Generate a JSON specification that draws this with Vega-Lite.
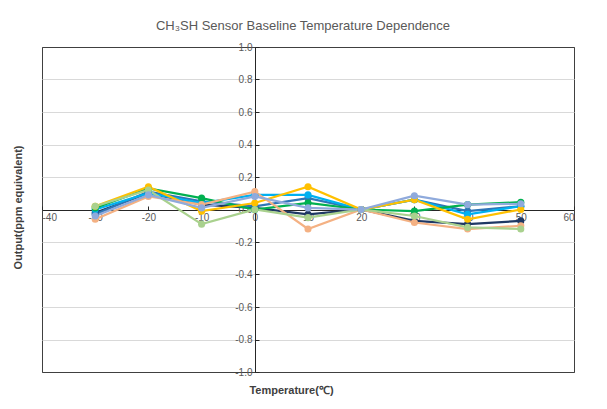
{
  "$schema": "https://vega.github.io/schema/vega-lite/v6.json",
  "width": 532,
  "height": 325,
  "autosize": "none",
  "padding": {"left": 42, "top": 47, "right": 33, "bottom": 37},
  "background": "white",
  "title": {
    "text": "CH₃SH Sensor Baseline Temperature Dependence",
    "font": "Liberation Sans",
    "fontSize": 13,
    "fontWeight": "normal",
    "color": "#595959",
    "anchor": "middle",
    "dx": -5,
    "offset": 9
  },
  "config": {
    "view": {"stroke": "#404040", "strokeWidth": 1},
    "axis": {
      "labelFont": "Liberation Sans",
      "labelFontSize": 10,
      "labelColor": "#595959",
      "titleFont": "Liberation Sans",
      "titleFontSize": 11,
      "titleFontWeight": "bold",
      "titleColor": "#404040",
      "domainColor": "#262626",
      "domainWidth": 1,
      "tickColor": "#262626",
      "tickSize": -4,
      "zindex": 0
    }
  },
  "data": {
    "values": [
      {"temp": -30, "sensor": "S1", "output": -0.02},
      {"temp": -20, "sensor": "S1", "output": 0.10},
      {"temp": -10, "sensor": "S1", "output": 0.03},
      {"temp": 0, "sensor": "S1", "output": 0.01},
      {"temp": 10, "sensor": "S1", "output": -0.03},
      {"temp": 20, "sensor": "S1", "output": 0},
      {"temp": 30, "sensor": "S1", "output": -0.07},
      {"temp": 40, "sensor": "S1", "output": -0.09},
      {"temp": 50, "sensor": "S1", "output": -0.07},
      {"temp": -30, "sensor": "S2", "output": -0.03},
      {"temp": -20, "sensor": "S2", "output": 0.11},
      {"temp": -10, "sensor": "S2", "output": 0.05},
      {"temp": 0, "sensor": "S2", "output": 0.02},
      {"temp": 10, "sensor": "S2", "output": 0.07},
      {"temp": 20, "sensor": "S2", "output": 0},
      {"temp": 30, "sensor": "S2", "output": 0.06},
      {"temp": 40, "sensor": "S2", "output": -0.01},
      {"temp": 50, "sensor": "S2", "output": 0.02},
      {"temp": -30, "sensor": "S3", "output": 0.0},
      {"temp": -20, "sensor": "S3", "output": 0.10},
      {"temp": -10, "sensor": "S3", "output": 0.04},
      {"temp": 0, "sensor": "S3", "output": 0.09},
      {"temp": 10, "sensor": "S3", "output": 0.09},
      {"temp": 20, "sensor": "S3", "output": 0},
      {"temp": 30, "sensor": "S3", "output": 0.06},
      {"temp": 40, "sensor": "S3", "output": -0.03},
      {"temp": 50, "sensor": "S3", "output": 0.02},
      {"temp": -30, "sensor": "S4", "output": 0.01},
      {"temp": -20, "sensor": "S4", "output": 0.13},
      {"temp": -10, "sensor": "S4", "output": 0.07},
      {"temp": 0, "sensor": "S4", "output": 0.0},
      {"temp": 10, "sensor": "S4", "output": 0.04},
      {"temp": 20, "sensor": "S4", "output": 0},
      {"temp": 30, "sensor": "S4", "output": -0.01},
      {"temp": 40, "sensor": "S4", "output": 0.03},
      {"temp": 50, "sensor": "S4", "output": 0.045},
      {"temp": -30, "sensor": "S5", "output": 0.02},
      {"temp": -20, "sensor": "S5", "output": 0.14},
      {"temp": -10, "sensor": "S5", "output": -0.01},
      {"temp": 0, "sensor": "S5", "output": 0.04},
      {"temp": 10, "sensor": "S5", "output": 0.14},
      {"temp": 20, "sensor": "S5", "output": 0},
      {"temp": 30, "sensor": "S5", "output": 0.06},
      {"temp": 40, "sensor": "S5", "output": -0.06},
      {"temp": 50, "sensor": "S5", "output": 0.0},
      {"temp": -30, "sensor": "S6", "output": -0.06},
      {"temp": -20, "sensor": "S6", "output": 0.08},
      {"temp": -10, "sensor": "S6", "output": 0.03},
      {"temp": 0, "sensor": "S6", "output": 0.11},
      {"temp": 10, "sensor": "S6", "output": -0.12},
      {"temp": 20, "sensor": "S6", "output": 0},
      {"temp": 30, "sensor": "S6", "output": -0.08},
      {"temp": 40, "sensor": "S6", "output": -0.12},
      {"temp": 50, "sensor": "S6", "output": -0.10},
      {"temp": -30, "sensor": "S7", "output": 0.02},
      {"temp": -20, "sensor": "S7", "output": 0.12},
      {"temp": -10, "sensor": "S7", "output": -0.09},
      {"temp": 0, "sensor": "S7", "output": 0.0},
      {"temp": 10, "sensor": "S7", "output": -0.05},
      {"temp": 20, "sensor": "S7", "output": 0},
      {"temp": 30, "sensor": "S7", "output": -0.04},
      {"temp": 40, "sensor": "S7", "output": -0.11},
      {"temp": 50, "sensor": "S7", "output": -0.12},
      {"temp": -30, "sensor": "S8", "output": -0.04},
      {"temp": -20, "sensor": "S8", "output": 0.09},
      {"temp": -10, "sensor": "S8", "output": 0.01},
      {"temp": 0, "sensor": "S8", "output": 0.08},
      {"temp": 10, "sensor": "S8", "output": 0.01},
      {"temp": 20, "sensor": "S8", "output": 0},
      {"temp": 30, "sensor": "S8", "output": 0.085},
      {"temp": 40, "sensor": "S8", "output": 0.03},
      {"temp": 50, "sensor": "S8", "output": 0.035}
    ]
  },
  "mark": {
    "type": "line",
    "strokeWidth": 2.25,
    "point": {"filled": true, "size": 50}
  },
  "encoding": {
    "x": {
      "field": "temp",
      "type": "quantitative",
      "scale": {"domain": [-40, 60], "nice": false},
      "axis": {
        "title": "Temperature(℃)",
        "values": [-40, -30, -20, -10, 0, 10, 20, 30, 40, 50, 60],
        "labelExpr": "replace(format(datum.value, 'd'), '−', '-')",
        "grid": false,
        "offset": -162,
        "titleX": 249,
        "titleY": 174,
        "labelPadding": 6
      }
    },
    "y": {
      "field": "output",
      "type": "quantitative",
      "scale": {"domain": [-1, 1], "nice": false},
      "axis": {
        "title": "Output(ppm equivalent)",
        "values": [-1, -0.8, -0.6, -0.4, -0.2, 0, 0.2, 0.4, 0.6, 0.8, 1],
        "labelExpr": "replace(format(datum.value, '.1f'), '−', '-')",
        "grid": true,
        "gridColor": {
          "condition": {"test": "abs(datum.value) == 1", "value": "#404040"},
          "value": "#D9D9D9"
        },
        "offset": -213,
        "titleX": -232,
        "titleY": 160,
        "labelPadding": 7
      }
    },
    "color": {
      "field": "sensor",
      "type": "nominal",
      "scale": {
        "domain": ["S1", "S2", "S3", "S4", "S5", "S6", "S7", "S8"],
        "range": ["#1F3864", "#2E75B6", "#00B0F0", "#00B050", "#FFC000", "#F4B183", "#A9D18E", "#8FAADC"]
      },
      "legend": null
    }
  }
}
